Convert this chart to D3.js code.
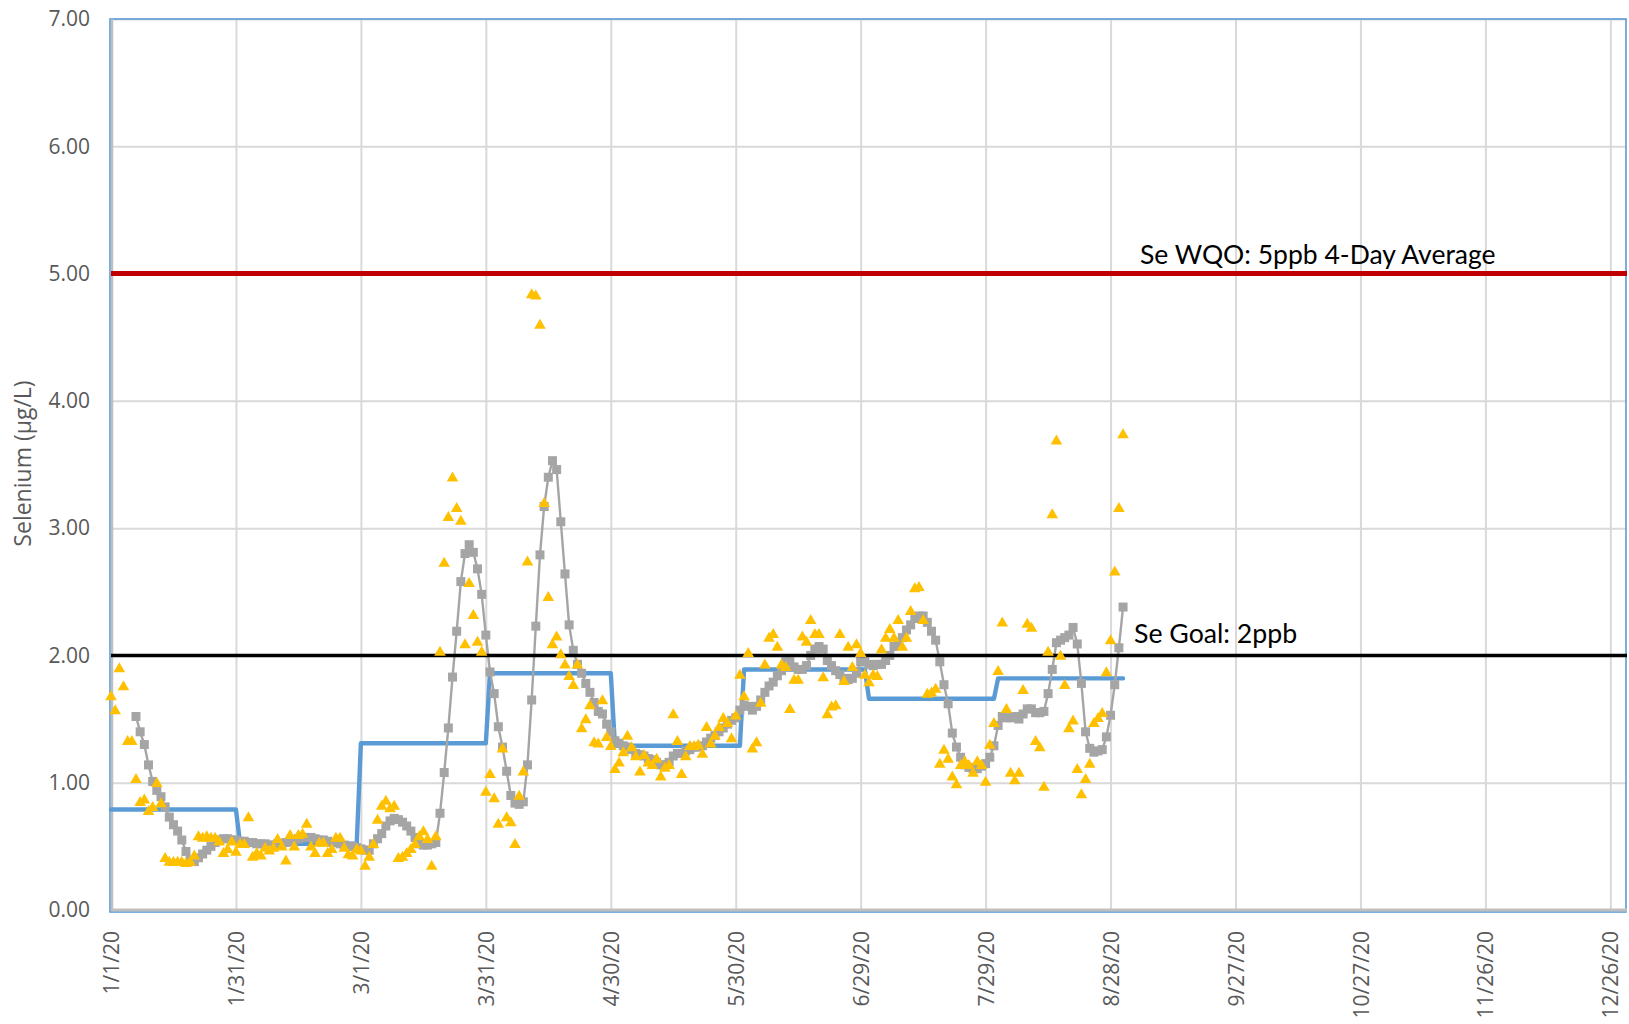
<!DOCTYPE html>
<html>
<head>
<meta charset="utf-8">
<script src="https://cdn.jsdelivr.net/npm/d3@7"></script>
<style>
  body { margin: 0; background: #fff; }
  svg { display: block; }
</style>
</head>
<body>
<svg id="chart"></svg>
<script>
const W = 1629, H = 1024;
const margin = {top: 19, right: 2, bottom: 114, left: 111};

const parseDate = d3.timeParse("%m/%d/%y");

// daily Se samples, one per day from 1/1/20
const dailyStart = "1/1/20";
const dailySe = [
  1.68,1.57,1.90,1.76,1.33,1.33,1.03,0.85,0.87,0.78,
  0.81,1.00,0.84,0.41,0.38,0.38,0.38,0.38,0.37,0.38,
  0.43,0.58,0.57,0.58,0.57,0.57,0.54,0.45,0.48,0.54,
  0.46,0.52,0.52,0.73,0.42,0.45,0.43,0.49,0.47,0.49,
  0.56,0.50,0.39,0.59,0.50,0.59,0.60,0.68,0.50,0.45,
  0.53,0.53,0.45,0.48,0.57,0.57,0.49,0.44,0.43,0.48,
  0.47,0.35,0.42,0.52,0.71,0.82,0.86,0.80,0.82,0.41,
  0.42,0.45,0.48,0.52,0.58,0.62,0.56,0.35,0.58,2.03,
  2.73,3.09,3.40,3.16,3.06,2.09,2.57,2.32,2.11,2.03,
  0.93,1.07,0.88,0.68,1.27,0.73,0.69,0.52,0.90,1.09,
  2.74,4.84,4.83,4.60,3.20,2.46,2.09,2.15,2.01,1.93,
  1.84,1.77,1.93,1.43,1.50,1.61,1.32,1.31,1.65,1.36,
  1.29,1.11,1.16,1.24,1.37,1.28,1.21,1.09,1.22,1.16,
  1.14,1.19,1.05,1.12,1.14,1.54,1.33,1.07,1.21,1.29,
  1.29,1.30,1.23,1.44,1.31,1.37,1.44,1.51,1.47,1.35,
  1.53,1.85,1.68,2.02,1.27,1.32,1.63,1.93,2.14,2.17,
  2.07,1.93,1.91,1.58,1.81,1.81,2.15,2.11,2.28,2.17,
  2.17,1.83,1.54,1.60,1.61,2.17,1.80,2.07,1.91,2.09,
  2.02,1.85,1.79,1.85,1.84,2.05,2.14,2.21,2.14,2.28,
  2.07,2.14,2.35,2.53,2.54,2.28,1.70,1.71,1.74,1.15,
  1.26,1.19,1.05,0.99,1.14,1.17,1.14,1.08,1.17,1.14,
  1.01,1.30,1.47,1.88,2.26,1.58,1.08,1.02,1.08,1.73,
  2.25,2.22,1.33,1.28,0.97,2.03,3.11,3.69,2.00,1.77,
  1.43,1.49,1.11,0.91,1.03,1.15,1.47,1.51,1.55,1.87,
  2.12,2.66,3.16,3.74
];

// 4-day running average, one per day from 1/7/20
const avgStart = "1/7/20";
const avg4Day = [
  1.52,1.40,1.30,1.14,1.01,0.94,0.89,0.81,0.73,0.67,
  0.62,0.55,0.46,0.39,0.38,0.41,0.44,0.47,0.50,0.53,
  0.55,0.56,0.56,0.55,0.55,0.54,0.54,0.53,0.53,0.52,
  0.52,0.52,0.51,0.51,0.52,0.52,0.53,0.54,0.55,0.56,
  0.57,0.57,0.57,0.56,0.55,0.55,0.54,0.53,0.53,0.52,
  0.51,0.50,0.50,0.49,0.48,0.47,0.47,0.52,0.56,0.60,
  0.66,0.70,0.72,0.71,0.69,0.66,0.62,0.57,0.52,0.51,
  0.51,0.52,0.53,0.76,1.08,1.43,1.83,2.19,2.58,2.80,
  2.87,2.81,2.68,2.48,2.16,1.87,1.70,1.44,1.28,1.09,
  0.90,0.84,0.83,0.85,1.14,1.65,2.23,2.79,3.17,3.40,
  3.53,3.46,3.05,2.64,2.24,2.04,1.93,1.86,1.78,1.71,
  1.63,1.56,1.54,1.46,1.40,1.33,1.31,1.29,1.28,1.26,
  1.23,1.22,1.21,1.19,1.18,1.16,1.14,1.14,1.16,1.21,
  1.23,1.23,1.25,1.26,1.28,1.28,1.29,1.32,1.35,1.37,
  1.40,1.43,1.46,1.49,1.51,1.57,1.61,1.60,1.57,1.60,
  1.65,1.71,1.76,1.79,1.84,1.88,1.95,1.95,1.91,1.89,
  1.89,1.92,2.00,2.05,2.07,2.05,1.96,1.92,1.88,1.85,
  1.82,1.81,1.82,1.86,1.95,1.95,1.93,1.92,1.93,1.93,
  1.96,2.00,2.07,2.10,2.14,2.20,2.24,2.29,2.31,2.31,
  2.26,2.19,2.12,1.95,1.77,1.62,1.39,1.28,1.20,1.14,
  1.12,1.11,1.11,1.13,1.15,1.20,1.29,1.45,1.52,1.51,
  1.51,1.52,1.50,1.54,1.58,1.58,1.55,1.55,1.56,1.70,
  1.89,2.10,2.12,2.14,2.16,2.22,2.09,1.78,1.40,1.27,
  1.24,1.25,1.26,1.36,1.53,1.77,2.06,2.38
];

// monthly averages
const monthFirst = ["1/1/20","2/1/20","3/1/20","4/1/20","5/1/20","6/1/20","7/1/20","8/1/20"];
const monthLast  = ["1/31/20","2/29/20","3/31/20","4/30/20","5/31/20","6/30/20","7/31/20","8/31/20"];
const monthAvg   = [0.79, 0.52, 1.31, 1.86, 1.29, 1.89, 1.66, 1.82];

const wqo = 5, goal = 2;
const wqoLabel = "Se WQO: 5ppb 4-Day Average";
const goalLabel = "Se Goal: 2ppb";

const xTickLabels = ["1/1/20","1/31/20","3/1/20","3/31/20","4/30/20","5/30/20","6/29/20",
  "7/29/20","8/28/20","9/27/20","10/27/20","11/26/20","12/26/20"];
const yTicks = [0, 1, 2, 3, 4, 5, 6, 7];
const axisMin = "1/1/20", axisMax = "12/30/20";

const svg = d3.select("#chart").attr("width", W).attr("height", H);

const x = d3.scaleTime()
  .domain([parseDate(axisMin), parseDate(axisMax)])
  .range([margin.left, W - margin.right]);
const y = d3.scaleLinear().domain([0, 7]).range([H - margin.bottom, margin.top]);

const x0 = x.range()[0], x1 = x.range()[1];
const yB = y.range()[0], yT = y.range()[1];

const dayOf = (start, i) => d3.timeDay.offset(parseDate(start), i);
const daily = dailySe.map((v, i) => ({date: dayOf(dailyStart, i), v}));
const avg = avg4Day.map((v, i) => ({date: dayOf(avgStart, i), v}));
const monthly = [];
monthAvg.forEach((v, i) => {
  monthly.push({date: parseDate(monthFirst[i]), v});
  monthly.push({date: parseDate(monthLast[i]), v});
});
const xTicks = xTickLabels.map(parseDate);

// grid
svg.append("g")
  .attr("transform", "translate(" + x0 + ",0)")
  .call(d3.axisLeft(y).tickValues(yTicks).tickSize(-(x1 - x0)).tickFormat(""))
  .call(g => g.select(".domain").remove())
  .selectAll("line").attr("stroke", "#d9d9d9").attr("stroke-width", 2);

svg.append("g")
  .attr("transform", "translate(0," + yB + ")")
  .call(d3.axisBottom(x).tickValues(xTicks).tickSize(-(yB - yT)).tickFormat(""))
  .call(g => g.select(".domain").remove())
  .selectAll("line").attr("stroke", "#d9d9d9").attr("stroke-width", 2);

// plot area border
svg.append("rect")
  .attr("x", x0 - 1).attr("y", yT).attr("width", x1 - x0).attr("height", yB - yT + 2)
  .attr("fill", "none").attr("stroke", "#5b9bd5").attr("stroke-width", 1.6);

// axis lines
svg.append("line").attr("x1", x0 + 1).attr("x2", x0 + 1).attr("y1", yT).attr("y2", yB + 1)
  .attr("stroke", "#bfbfbf").attr("stroke-width", 2.5);
svg.append("line").attr("x1", x0).attr("x2", x1).attr("y1", yB).attr("y2", yB)
  .attr("stroke", "#bfbfbf").attr("stroke-width", 3);

// y axis labels
const yAxis = svg.append("g")
  .attr("transform", "translate(" + x0 + ",0)")
  .call(d3.axisLeft(y).tickValues(yTicks).tickSize(0).tickPadding(21).tickFormat(d3.format(".2f")));
yAxis.select(".domain").remove();
yAxis.selectAll("text")
  .attr("fill", "#595959")
  .style("font-family", "'Open Sans', sans-serif")
  .style("font-size", "21px");

// x axis labels
const xAxis = svg.append("g")
  .attr("transform", "translate(0," + yB + ")")
  .call(d3.axisBottom(x).tickValues(xTicks).tickSize(0)
    .tickFormat((d, i) => xTickLabels[i]));
xAxis.select(".domain").remove();
xAxis.selectAll("text")
  .attr("transform", "rotate(-90)")
  .attr("text-anchor", "end")
  .attr("x", -21).attr("y", 0).attr("dy", "0.36em")
  .attr("fill", "#595959")
  .style("font-family", "'Open Sans', sans-serif")
  .style("font-size", "21px");

// y title
svg.append("text")
  .attr("transform", "translate(23," + ((yT + yB) / 2 - 1) + ") rotate(-90)")
  .attr("text-anchor", "middle")
  .attr("dy", "0.35em")
  .attr("fill", "#595959")
  .style("font-family", "'Open Sans', sans-serif")
  .style("font-size", "23px")
  .text("Selenium (\u00b5g/L)");

// monthly average step
svg.append("path")
  .datum(monthly)
  .attr("fill", "none").attr("stroke", "#5b9bd5").attr("stroke-width", 4.4)
  .attr("stroke-linejoin", "round").attr("stroke-linecap", "round")
  .attr("d", d3.line().x(d => x(d.date)).y(d => y(d.v)));

// 4-day average line + squares
svg.append("path")
  .datum(avg)
  .attr("fill", "none").attr("stroke", "#a5a5a5").attr("stroke-width", 2.4)
  .attr("stroke-linejoin", "round")
  .attr("d", d3.line().x(d => x(d.date)).y(d => y(d.v)));

svg.append("g").selectAll("rect")
  .data(avg)
  .join("rect")
    .attr("x", d => x(d.date) - 4.5).attr("y", d => y(d.v) - 4.5)
    .attr("width", 9).attr("height", 9)
    .attr("fill", "#a5a5a5");

// goal & WQO lines
svg.append("line")
  .attr("x1", x0).attr("x2", x1).attr("y1", y(goal)).attr("y2", y(goal))
  .attr("stroke", "#000").attr("stroke-width", 3.4);
svg.append("line")
  .attr("x1", x0).attr("x2", x1).attr("y1", y(wqo)).attr("y2", y(wqo))
  .attr("stroke", "#c00000").attr("stroke-width", 5);

// daily triangles
const tri = "M0,-5.8L5.8,4.2L-5.8,4.2Z";
svg.append("g").selectAll("path")
  .data(daily)
  .join("path")
    .attr("transform", d => "translate(" + x(d.date) + "," + y(d.v) + ")")
    .attr("d", tri)
    .attr("fill", "#ffc000");

// labels
svg.append("text")
  .attr("x", 1140).attr("y", y(wqo) - 10)
  .style("font-family", "Lato, sans-serif").style("font-size", "26.5px")
  .attr("fill", "#000")
  .text(wqoLabel);

svg.append("text")
  .attr("x", 1134).attr("y", y(goal) - 12)
  .style("font-family", "Lato, sans-serif").style("font-size", "26.7px")
  .attr("fill", "#000")
  .text(goalLabel);
</script>
</body>
</html>
